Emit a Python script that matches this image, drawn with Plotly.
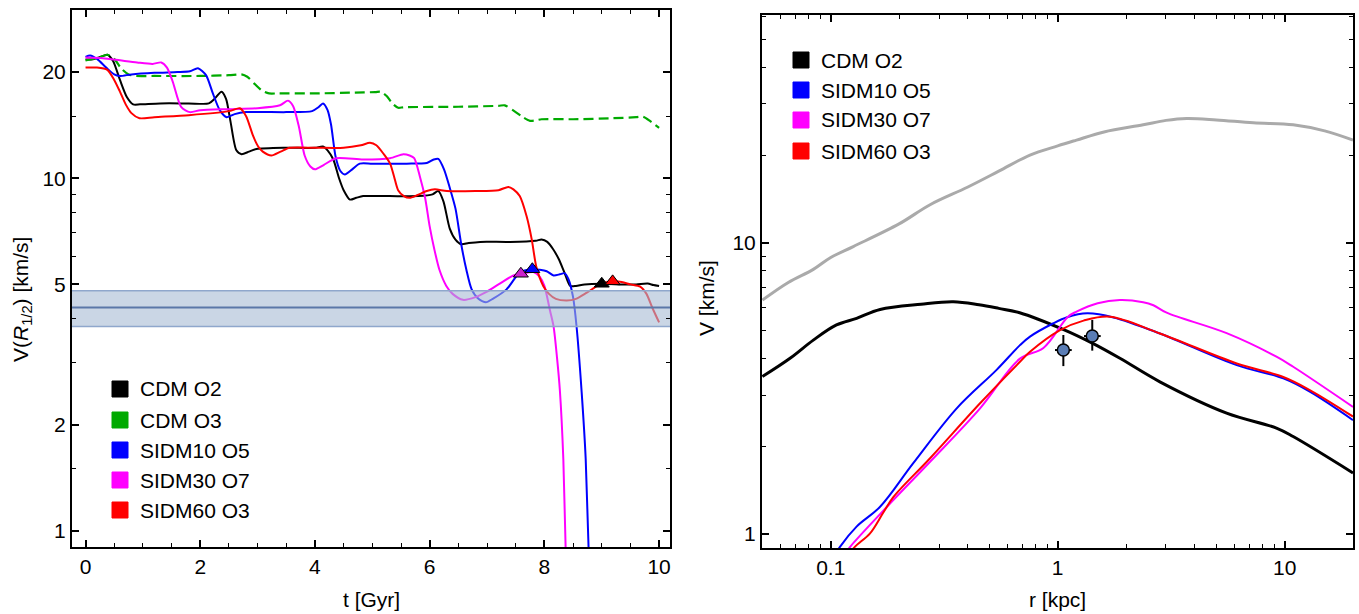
import math
import plotly.graph_objects as go

W, H = 1359, 614
FONT = "Liberation Sans, Arial, sans-serif"

# ---------------- left panel: V(R_1/2) versus time ----------------
t_cdm_o2 = [0.0, 0.15, 0.3, 0.38, 0.48, 0.6, 0.72, 0.83, 0.95, 1.3, 1.8, 2.15, 2.25, 2.37, 2.45,
            2.53, 2.63, 2.72, 2.85, 2.98, 3.5, 4.0, 4.14, 4.22, 4.32, 4.42, 4.5, 4.61, 4.72, 4.84,
            5.3, 5.8, 6.05, 6.15, 6.24, 6.35, 6.45, 6.55, 6.68, 6.88, 7.4, 7.85, 7.95, 8.05, 8.15,
            8.25, 8.35, 8.45, 8.55, 8.7, 9.0, 9.3, 9.6, 9.8, 9.9, 10.0]
v_cdm_o2 = [21.7, 21.8, 22.2, 22.4, 21.5, 19.0, 17.0, 16.2, 16.2, 16.3, 16.3, 16.3, 16.8, 17.6, 16.8,
            14.4, 12.0, 11.7, 11.9, 12.1, 12.2, 12.2, 12.3, 12.0, 11.3, 10.0, 9.25, 8.7, 8.8, 8.9,
            8.9, 8.9, 9.0, 9.2, 8.6, 7.2, 6.7, 6.5, 6.55, 6.6, 6.6, 6.65, 6.7, 6.6, 6.3,
            5.9, 5.4, 4.95, 4.95, 5.0, 5.02, 5.0, 5.0, 5.03, 4.98, 4.95]

t_cdm_o3 = [0.0, 0.2, 0.38, 0.5, 0.62, 0.75, 0.88, 1.2, 2.0, 2.5, 2.72, 2.82, 2.95, 3.08, 3.2, 3.35,
            4.0, 4.7, 5.05, 5.15, 5.25, 5.35, 5.45, 5.55, 6.5, 7.2, 7.31, 7.45, 7.6, 7.75, 7.85,
            7.95, 8.5, 9.2, 9.6, 9.72, 9.85, 10.0]
v_cdm_o3 = [21.6, 21.9, 22.4, 21.8, 20.5, 19.7, 19.5, 19.5, 19.5, 19.6, 19.7, 19.4, 18.5, 17.7, 17.4, 17.4,
            17.4, 17.5, 17.55, 17.6, 17.1, 16.3, 15.85, 15.9, 15.95, 16.05, 16.1, 15.6, 15.0, 14.55, 14.6,
            14.7, 14.7, 14.8, 14.9, 14.95, 14.5, 13.9]

t_sidm10 = [0.0, 0.08, 0.2, 0.36, 0.5, 0.6, 0.8, 1.2, 1.6, 1.82, 1.96, 2.1, 2.22, 2.34, 2.46, 2.6,
            2.8, 3.5, 3.95, 4.06, 4.14, 4.22, 4.28, 4.36, 4.44, 4.52, 4.65, 4.78, 5.0, 5.6, 5.95,
            6.07, 6.15, 6.25, 6.35, 6.45, 6.55, 6.64, 6.73, 6.85, 6.98, 7.1, 7.34, 7.57, 7.78, 7.92,
            8.04, 8.16, 8.27, 8.35, 8.42, 8.5, 8.56, 8.65, 8.72, 8.77, 8.8]
v_sidm10 = [22.1, 22.3, 21.8, 20.6, 19.7, 19.5, 19.7, 19.9, 20.0, 20.1, 20.5, 19.6, 17.4, 15.6, 14.9, 15.2,
            15.4, 15.4, 15.5, 15.9, 16.3, 15.6, 14.2, 11.5, 10.5, 10.25, 10.6, 11.0, 11.0, 11.0, 11.05,
            11.3, 11.35, 10.6, 9.4, 8.2, 6.5, 5.5, 4.85, 4.55, 4.45, 4.55, 4.84, 5.4, 5.52, 5.5,
            5.45, 5.3, 5.34, 5.38, 5.17, 4.6, 3.81, 2.47, 1.6, 0.9, 0.75]

t_sidm30 = [0.0, 0.3, 0.6, 0.9, 1.17, 1.32, 1.42, 1.52, 1.67, 1.82, 2.0, 2.5, 3.0, 3.39, 3.53, 3.62,
            3.72, 3.82, 3.92, 4.0, 4.15, 4.37, 4.84, 5.31, 5.54, 5.65, 5.73, 5.83, 5.92, 6.0, 6.08,
            6.17, 6.29, 6.4, 6.58, 6.8, 6.99, 7.2, 7.46, 7.6, 7.81, 7.92, 8.0, 8.1, 8.16, 8.22,
            8.27, 8.33, 8.37, 8.39]
v_sidm30 = [22.0, 21.9, 21.6, 21.3, 21.1, 21.3, 20.6, 18.8, 15.9, 15.4, 15.6, 15.7, 15.8, 16.1, 16.6, 16.0,
            14.0, 11.6, 10.8, 10.6, 10.9, 11.4, 11.3, 11.4, 11.7, 11.6, 11.4, 10.1, 8.8, 7.3, 6.3,
            5.5, 4.95, 4.7, 4.52, 4.6, 4.76, 5.0, 5.3, 5.36, 5.42, 5.25, 4.95, 4.2, 3.8, 3.1,
            2.5, 1.6, 0.9, 0.78]

t_sidm60 = [0.0, 0.2, 0.38, 0.5, 0.6, 0.7, 0.8, 0.94, 1.2, 1.8, 2.51, 2.69, 2.8, 2.92, 3.01, 3.09,
            3.24, 3.4, 3.56, 4.0, 4.5, 4.8, 4.96, 5.07, 5.2, 5.31, 5.38, 5.45, 5.55, 5.65, 5.78,
            5.95, 6.09, 6.3, 6.8, 7.2, 7.37, 7.46, 7.57, 7.69, 7.78, 7.86, 7.98, 8.08, 8.2, 8.39,
            8.55, 8.74, 8.97, 9.19, 9.35, 9.5, 9.67, 9.78, 9.88, 10.0]
v_sidm60 = [20.6, 20.6, 20.3, 19.0, 17.6, 16.2, 15.3, 14.8, 14.9, 15.1, 15.5, 15.8, 15.0, 13.2, 12.3, 11.9,
            11.6, 11.9, 12.2, 12.2, 12.2, 12.4, 12.6, 12.4, 11.7, 11.0, 10.1, 9.25, 8.9, 8.8, 8.95,
            9.2, 9.3, 9.2, 9.2, 9.25, 9.45, 9.3, 8.9, 7.8, 6.7, 5.6, 4.95, 4.7, 4.55, 4.5,
            4.55, 4.74, 5.0, 5.1, 5.08, 5.0, 4.93, 4.7, 4.3, 3.9]

# observed V(R_1/2) band
band_center = 4.3
band_low = 3.8
band_high = 4.8

# markers at the end of each run
marker_t = [7.59, 7.79, 9.0, 9.19]
marker_v = [5.36, 5.52, 5.02, 5.1]

left_names = ["CDM O2", "CDM O3", "SIDM10 O5", "SIDM30 O7", "SIDM60 O3"]

# ---------------- right panel: rotation curves ----------------
r_halo = [0.05, 0.065, 0.0838, 0.1, 0.1257, 0.2, 0.274, 0.4, 0.55, 0.755, 1.0, 1.21, 1.6, 2.38,
          3.0, 3.7, 5.0, 7.28, 10.9, 15.0, 20.0]
v_halo = [6.35, 7.3, 8.1, 8.9, 9.7, 11.6, 13.5, 15.5, 17.6, 20.0, 21.5, 22.5, 24.0, 25.4,
          26.3, 26.7, 26.4, 25.8, 25.4, 24.2, 22.5]

r_cdm = [0.05, 0.0662, 0.0838, 0.106, 0.13, 0.165, 0.25, 0.347, 0.45, 0.55, 0.68, 1.056, 1.42,
         1.88, 2.82, 5.55, 9.2, 10.9, 20.0]
v_cdm = [3.47, 4.01, 4.63, 5.22, 5.5, 5.9, 6.15, 6.27, 6.12, 5.95, 5.75, 5.04, 4.52,
         4.01, 3.33, 2.6, 2.31, 2.16, 1.62]

r_s10 = [0.1, 0.11, 0.13, 0.165, 0.231, 0.359, 0.538, 0.682, 0.755, 0.953, 1.1, 1.35, 1.76,
         2.82, 6.15, 9.86, 12.9, 20.0]
v_s10 = [0.8, 0.905, 1.06, 1.24, 1.75, 2.7, 3.66, 4.45, 4.76, 5.28, 5.55, 5.72, 5.54,
         4.88, 3.8, 3.42, 3.08, 2.46]

r_s30 = [0.115, 0.122, 0.177, 0.274, 0.455, 0.682, 0.865, 1.11, 1.21, 1.5, 1.88, 2.38, 2.64,
         3.02, 5.55, 9.2, 10.9, 20.0]
v_s30 = [0.85, 0.905, 1.24, 1.77, 2.7, 4.0, 4.35, 5.57, 5.8, 6.2, 6.36, 6.25, 6.1,
         5.75, 4.89, 4.06, 3.75, 2.73]

r_s60 = [0.12, 0.128, 0.149, 0.17, 0.189, 0.274, 0.455, 0.682, 0.755, 1.02, 1.3, 1.7, 2.82,
         6.15, 9.86, 12.9, 20.0]
v_s60 = [0.85, 0.905, 1.005, 1.18, 1.34, 1.82, 2.81, 3.9, 4.22, 5.0, 5.4, 5.57, 4.88,
         3.85, 3.46, 3.12, 2.53]

obs_r = [1.059, 1.42]
obs_v = [4.28, 4.78]
obs_r_plus = [0.094, 0.127]
obs_r_minus = [0.086, 0.114]
obs_v_plus = [0.54, 0.65]
obs_v_minus = [0.51, 0.52]

right_names = ["CDM O2", "SIDM10 O5", "SIDM30 O7", "SIDM60 O3"]

# ---------------- styling ----------------
BLACK, GREEN, BLUE, MAGENTA, RED = "#000000", "#00aa00", "#0000ff", "#ff00ff", "#ff0000"
GRAY = "#aaaaaa"

X1_RANGE = [-0.236, 10.19]
Y1_RANGE = [math.log10(0.9), math.log10(30.0)]
X2_RANGE = [math.log10(0.0498), math.log10(20.0)]
Y2_RANGE = [math.log10(0.895), math.log10(60.5)]


def px_x(p):
    return p / W


def px_y(p):
    return 1 - p / H


fig = go.Figure()


def add_line(x, y, color, width, axes, dash=None, smoothing=0.7):
    fig.add_trace(go.Scatter(
        x=x, y=y, mode="lines",
        line=dict(color=color, width=width, shape="spline", smoothing=smoothing, dash=dash),
        xaxis=axes[0], yaxis=axes[1], showlegend=False, hoverinfo="skip"))


L = ("x", "y")
R = ("x2", "y2")

add_line(t_cdm_o2, v_cdm_o2, BLACK, 2, L)
add_line(t_cdm_o3, v_cdm_o3, GREEN, 2.2, L, dash="10px,5px")
add_line(t_sidm10, v_sidm10, BLUE, 2, L)
add_line(t_sidm30, v_sidm30, MAGENTA, 2, L)
add_line(t_sidm60, v_sidm60, RED, 2, L)

# translucent observational band on top of the curves
fig.add_trace(go.Scatter(
    x=[X1_RANGE[0], X1_RANGE[1], X1_RANGE[1], X1_RANGE[0], X1_RANGE[0]],
    y=[band_low, band_low, band_high, band_high, band_low],
    mode="lines", fill="toself", fillcolor="rgba(167,186,211,0.6)",
    line=dict(width=0), xaxis="x", yaxis="y", showlegend=False, hoverinfo="skip"))
for level, col, wdt in [(band_low, "#8fa7cc", 1.5), (band_high, "#8fa7cc", 1.5),
                        (band_center, "#5a77a8", 2)]:
    fig.add_trace(go.Scatter(
        x=X1_RANGE, y=[level, level], mode="lines", line=dict(color=col, width=wdt),
        xaxis="x", yaxis="y", showlegend=False, hoverinfo="skip"))

fig.add_trace(go.Scatter(
    x=marker_t, y=marker_v, mode="markers",
    marker=dict(symbol="triangle-up", size=13,
                color=["#cc22cc", BLUE, BLACK, RED],
                line=dict(color="black", width=1)),
    xaxis="x", yaxis="y", showlegend=False, hoverinfo="skip"))

add_line(r_halo, v_halo, GRAY, 3, R, smoothing=1.0)
add_line(r_cdm, v_cdm, BLACK, 3, R, smoothing=1.0)
add_line(r_s10, v_s10, BLUE, 2, R, smoothing=1.0)
add_line(r_s30, v_s30, MAGENTA, 2, R, smoothing=1.0)
add_line(r_s60, v_s60, RED, 2, R, smoothing=1.0)

fig.add_trace(go.Scatter(
    x=obs_r, y=obs_v, mode="markers",
    marker=dict(symbol="circle", size=12, color="#5a7db5", line=dict(color="black", width=1.5)),
    error_x=dict(type="data", array=obs_r_plus, arrayminus=obs_r_minus, color="black",
                 thickness=2, width=0),
    error_y=dict(type="data", array=obs_v_plus, arrayminus=obs_v_minus, color="black",
                 thickness=2, width=0),
    xaxis="x2", yaxis="y2", showlegend=False, hoverinfo="skip"))


def axis_common():
    return dict(showline=True, linecolor="black", linewidth=2, mirror="allticks",
                ticks="inside", ticklen=7, tickwidth=1.5, tickcolor="black",
                showgrid=False, zeroline=False,
                tickfont=dict(family=FONT, size=21, color="black"))


minor_t = [v / 2 for v in range(0, 21) if v % 4 != 0]
minor_v1 = [1.5, 3, 4, 6, 7, 8, 9, 15]
minor_r = [0.05, 0.06, 0.07, 0.08, 0.09, 0.2, 0.3, 0.4, 0.5, 0.6, 0.7, 0.8, 0.9,
           2, 3, 4, 5, 6, 7, 8, 9, 20]
minor_v2 = [2, 3, 4, 5, 6, 7, 8, 9, 20, 30, 40, 50, 60]

minor_style = dict(ticks="inside", ticklen=4, tickwidth=1.2, tickcolor="black", showgrid=False)

xa = axis_common()
xa.update(domain=[px_x(72), px_x(670)], range=X1_RANGE, anchor="y",
          tickmode="array", tickvals=[0, 2, 4, 6, 8, 10],
          minor=dict(tickmode="array", tickvals=minor_t, **minor_style))
ya = axis_common()
ya.update(type="log", domain=[px_y(547), px_y(10)], range=Y1_RANGE, anchor="x",
          tickmode="array", tickvals=[1, 2, 5, 10, 20], ticktext=["1", "2", "5", "10", "20"],
          minor=dict(tickmode="array", tickvals=minor_v1, **minor_style))
xa2 = axis_common()
xa2.update(type="log", domain=[px_x(762), px_x(1353)], range=X2_RANGE, anchor="y2",
           tickmode="array", tickvals=[0.1, 1, 10], ticktext=["0.1", "1", "10"],
           minor=dict(tickmode="array", tickvals=minor_r, **minor_style))
ya2 = axis_common()
ya2.update(type="log", domain=[px_y(548), px_y(15)], range=Y2_RANGE, anchor="x2",
           tickmode="array", tickvals=[1, 10], ticktext=["1", "10"],
           minor=dict(tickmode="array", tickvals=minor_v2, **minor_style))

shapes = []
annotations = []


def legend_block(names, colors, x_sq, y_rows):
    for name, col, yc in zip(names, colors, y_rows):
        shapes.append(dict(type="rect", xref="paper", yref="paper",
                           x0=px_x(x_sq), x1=px_x(x_sq + 16),
                           y0=px_y(yc + 8), y1=px_y(yc - 8),
                           fillcolor=col, line=dict(color=col, width=1), opacity=1))
        annotations.append(dict(text=name, xref="paper", yref="paper",
                                x=px_x(x_sq + 26), y=px_y(yc), xanchor="left", yanchor="middle",
                                showarrow=False, font=dict(family=FONT, size=21, color="black")))


legend_block(left_names, [BLACK, GREEN, BLUE, MAGENTA, RED], 112, [389, 420, 450, 480, 510])
legend_block(right_names, [BLACK, BLUE, MAGENTA, RED], 793, [60, 90, 120, 151])

title_font = dict(family=FONT, size=21, color="black")
annotations += [
    dict(text="t [Gyr]", xref="paper", yref="paper", x=px_x(371), y=px_y(599),
         xanchor="center", yanchor="middle", showarrow=False, font=title_font),
    dict(text="r [kpc]", xref="paper", yref="paper", x=px_x(1057), y=px_y(599),
         xanchor="center", yanchor="middle", showarrow=False, font=title_font),
    dict(text="V(<i>R</i><sub>1/2</sub>) [km/s]", xref="paper", yref="paper",
         x=px_x(22), y=px_y(300), xanchor="center", yanchor="middle", textangle=-90,
         showarrow=False, font=title_font),
    dict(text="V [km/s]", xref="paper", yref="paper", x=px_x(706), y=px_y(298),
         xanchor="center", yanchor="middle", textangle=-90, showarrow=False, font=title_font),
]

fig.update_layout(
    width=W, height=H, margin=dict(l=0, r=0, t=0, b=0),
    paper_bgcolor="white", plot_bgcolor="white",
    font=dict(family=FONT, size=21, color="black"),
    xaxis=xa, yaxis=ya, xaxis2=xa2, yaxis2=ya2,
    shapes=shapes, annotations=annotations, showlegend=False,
)

fig.write_html("out.html")
